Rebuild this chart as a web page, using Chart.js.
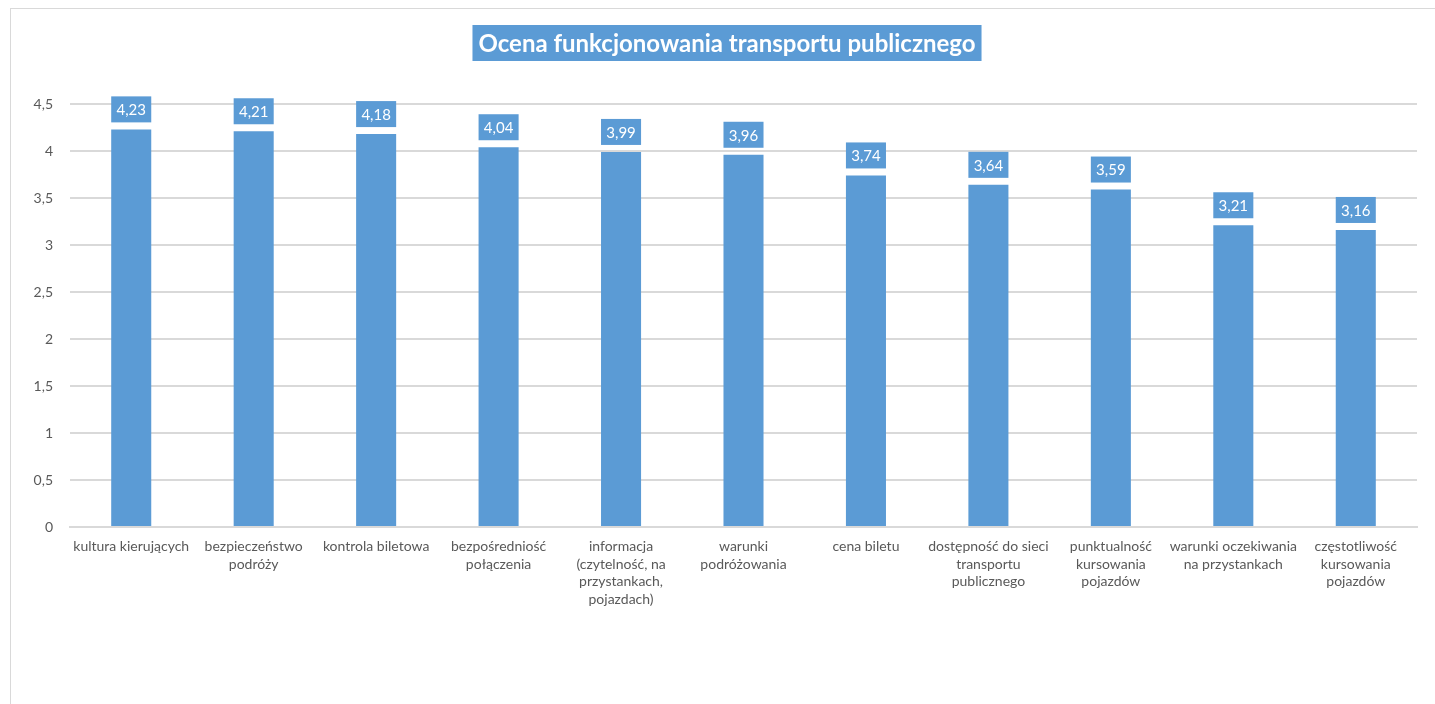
<!DOCTYPE html>
<html>
<head>
<meta charset="utf-8">
<script src="https://cdn.jsdelivr.net/npm/chart.js@4"></script>
<style>
html,body{margin:0;padding:0;background:#fff;overflow:hidden;}
#frame{position:absolute;left:10px;top:8px;width:1440px;height:710px;border-left:1px solid #d9d9d9;border-top:1px solid #d9d9d9;}
#wrap{position:absolute;left:0;top:0;width:1424px;height:695px;}
</style>
</head>
<body>
<div id="frame"><div id="wrap"><canvas id="c"></canvas></div></div>
<script>
const chartTitle = "Ocena funkcjonowania transportu publicznego";
const categories = [
  ["kultura kierujących"],
  ["bezpieczeństwo","podróży"],
  ["kontrola biletowa"],
  ["bezpośredniość","połączenia"],
  ["informacja","(czytelność, na","przystankach,","pojazdach)"],
  ["warunki","podróżowania"],
  ["cena biletu"],
  ["dostępność do sieci","transportu","publicznego"],
  ["punktualność","kursowania","pojazdów"],
  ["warunki oczekiwania","na przystankach"],
  ["częstotliwość","kursowania","pojazdów"]
];
const scores = [4.23, 4.21, 4.18, 4.04, 3.99, 3.96, 3.74, 3.64, 3.59, 3.21, 3.16];
const yTicks = [0, 0.5, 1, 1.5, 2, 2.5, 3, 3.5, 4, 4.5];

const BLUE = "#5B9BD5";
const FONT = "Lato, 'Open Sans', sans-serif";
const fmt = v => String(v).replace('.', ',');

const decor = {
  id: 'decor',
  afterDatasetsDraw(chart) {
    const ctx = chart.ctx;
    const meta = chart.getDatasetMeta(0);
    ctx.save();
    ctx.font = "15px " + FONT;
    ctx.textAlign = 'center';
    ctx.textBaseline = 'middle';
    meta.data.forEach((bar, i) => {
      const txt = fmt(scores[i].toFixed(2));
      const w = Math.max(bar.width, ctx.measureText(txt).width + 8);
      const h = 26;
      const x = bar.x - w / 2;
      const y = bar.y - 7 - h;
      ctx.fillStyle = BLUE;
      ctx.fillRect(x, y, w, h);
      ctx.fillStyle = '#fff';
      ctx.fillText(txt, bar.x, y + h / 2 + 1);
    });
    // title
    ctx.font = "bold 24px " + FONT;
    const tw = ctx.measureText(chartTitle).width;
    const cx = 716;
    const bw = tw + 12, bh = 36;
    ctx.fillStyle = BLUE;
    ctx.fillRect(cx - bw / 2, 16, bw, bh);
    ctx.fillStyle = '#fff';
    ctx.fillText(chartTitle, cx, 16 + bh / 2 + 1);
    ctx.restore();
  }
};

new Chart(document.getElementById('c'), {
  type: 'bar',
  data: {
    labels: categories,
    datasets: [{
      data: scores,
      backgroundColor: BLUE,
      borderWidth: 0,
      categoryPercentage: 1.0,
      barPercentage: 0.327
    }]
  },
  options: {
    responsive: true,
    maintainAspectRatio: false,
    animation: false,
    devicePixelRatio: 1,
    layout: { padding: { left: 0, right: 18, top: 95, bottom: 0 } },
    plugins: { legend: { display: false }, tooltip: { enabled: false }, title: { display: false } },
    scales: {
      x: {
        grid: { display: false, drawTicks: false },
        border: { display: true, color: '#d9d9d9', width: 2 },
        ticks: {
          color: '#595959',
          font: { size: 14, family: FONT, lineHeight: 1.25 },
          padding: 11,
          maxRotation: 0,
          autoSkip: false
        },
        afterFit(scale) { scale.height = 177; }
      },
      y: {
        min: 0,
        max: 4.5,
        afterBuildTicks(scale) { scale.ticks = yTicks.map(v => ({ value: v })); },
        grid: { color: '#d9d9d9', lineWidth: 2, drawTicks: false },
        border: { display: false },
        ticks: {
          color: '#595959',
          font: { size: 14, family: FONT },
          padding: 17,
          callback: v => fmt(v)
        },
        afterFit(scale) { scale.width = 59; }
      }
    }
  },
  plugins: [decor]
});
</script>
</body>
</html>
